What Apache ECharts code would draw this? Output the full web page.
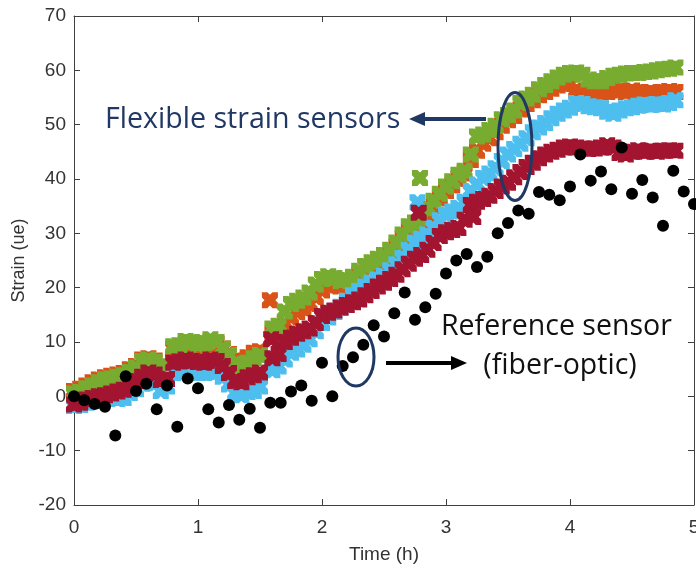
<!DOCTYPE html>
<html><head><meta charset="utf-8">
<script src="https://cdn.jsdelivr.net/npm/echarts@6/dist/echarts.min.js"></script>
<style>html,body{margin:0;padding:0;background:#fff;overflow:hidden}#c{width:696px;height:565px}</style>
</head><body><div id="c"></div>
<script>
// ---------- data ----------
const times = [0,0.05,0.1,0.15,0.2,0.25,0.3,0.35,0.4,0.45,0.5,0.55,0.6,0.65,0.7,0.75,0.8,0.85,0.9,0.95,1,1.05,1.1,1.15,1.2,1.25,1.3,1.35,1.4,1.45,1.5,1.55,1.6,1.65,1.7,1.75,1.8,1.85,1.9,1.95,2,2.05,2.1,2.15,2.2,2.25,2.3,2.35,2.4,2.45,2.5,2.55,2.6,2.65,2.7,2.75,2.8,2.85,2.9,2.95,3,3.05,3.1,3.15,3.2,3.25,3.3,3.35,3.4,3.45,3.5,3.55,3.6,3.65,3.7,3.75,3.8,3.85,3.9,3.95,4,4.05,4.1,4.15,4.2,4.25,4.3,4.35,4.4,4.45,4.5,4.55,4.6,4.65,4.7,4.75,4.8,4.85];

const greenSensor = [0.5,0.8,1.5,2.0,2.6,3.1,3.3,3.6,3.9,4.5,
 5.3,6.5,6.8,6.3,5.2,5.5,9.2,9.4,10.2,10.0,
 9.5,9.8,10.5,10.0,8.8,7.6,6.0,5.6,6.2,7.0,
 7.6,null,12.5,13.0,15.6,17.0,17.6,18.2,19.1,20.6,
 21.6,22.1,21.8,21.2,21.4,22.0,23.1,24.0,24.7,25.3,
 26.0,27.0,28.3,29.8,31.3,32.0,32.8,34.6,36.0,37.3,
 38.6,39.6,40.8,41.5,44.5,47.8,48.2,49.0,49.8,51.0,
 51.8,52.6,54.0,54.8,55.5,56.5,57.3,58.0,58.7,59.2,
 59.5,59.6,59.2,58.3,58.0,58.0,58.6,59.0,59.2,59.4,
 59.5,59.5,59.7,59.8,60.0,60.2,60.3,60.5];

const orangeSensor = [1.0,1.4,2.0,2.6,3.1,3.5,3.8,4.0,4.3,5.0,
 5.6,6.8,7.0,6.6,5.5,5.2,8.8,9.0,9.6,9.5,
 9.0,9.3,10.0,9.6,8.8,7.8,6.6,6.5,7.2,8.0,
 8.3,null,11.5,12.0,13.4,14.5,15.5,16.2,17.0,18.3,
 19.5,20.4,20.6,20.2,20.5,21.2,22.4,24.0,23.8,24.4,
 25.2,26.0,27.5,29.0,30.3,31.0,32.3,33.5,35.0,36.4,
 37.8,38.8,40.0,41.0,43.5,45.2,46.5,47.5,48.6,49.8,
 50.8,51.6,52.8,53.8,54.5,55.4,56.0,56.6,57.2,57.5,
 57.6,56.3,56.0,55.6,55.6,55.9,56.0,56.5,56.3,56.0,
 56.3,56.0,55.8,56.0,55.8,56.0,56.2,56.0];

const blueSensor = [-1.8,-1.6,-1.2,-0.8,-0.5,-0.3,-0.2,-0.5,-0.3,0.6,
 1.3,2.3,2.8,2.4,1.0,1.8,4.3,4.4,4.8,4.6,
 4.3,4.3,4.6,4.5,3.6,2.2,0.6,0.2,0.8,1.0,
 1.8,null,4.8,5.5,6.8,8.0,8.6,9.5,10.5,12.0,
 13.5,14.5,15.5,16.5,17.6,18.6,19.4,20.2,20.9,21.5,
 22.2,23.2,24.3,25.5,27.0,28.3,29.0,29.8,31.0,32.4,
 33.4,34.0,34.7,35.8,37.8,39.0,40.2,41.0,42.0,43.3,
 44.5,45.5,46.5,47.5,48.6,49.5,50.3,51.2,52.0,52.6,
 53.1,54.0,53.8,53.4,53.2,53.0,52.4,52.0,52.6,53.0,
 53.2,53.5,53.7,53.6,53.8,53.7,54.0,54.5];

const redSensor = [-1.5,-1.2,-0.6,-0.3,0.0,0.2,0.5,0.9,1.2,2.0,
 2.8,3.6,4.4,4.0,3.0,3.2,6.2,6.4,6.8,6.5,
 6.3,6.2,6.8,6.5,5.6,4.3,2.8,2.6,3.5,3.9,
 4.4,null,7.0,7.8,10.0,10.8,11.5,12.0,12.5,13.5,
 14.8,15.4,15.8,16.3,16.8,17.3,17.8,18.6,19.4,20.2,
 20.9,21.6,22.4,23.4,24.4,25.3,26.0,27.0,28.2,29.5,
 30.2,30.6,31.0,32.5,35.2,35.8,36.3,36.9,37.8,38.6,
 39.3,40.3,41.3,42.2,43.0,43.8,44.5,45.0,45.4,45.8,
 46.0,45.8,45.6,45.5,45.6,45.8,46.2,45.8,44.8,44.5,
 45.0,45.3,45.0,45.2,45.0,45.2,45.3,45.2];

// isolated readings off the main bands [time, strain]
const greenExtra  = [[2.79, 40.2]];
const orangeExtra = [[1.58, 17.7]];
const blueExtra   = [[2.77, 35.7]];
const redExtra    = [[1.59, 10.5], [2.78, 33.8], [3.22, 33.0]];

// reference (fiber-optic) sensor
const refTimes = [0,0.083,0.167,0.25,0.333,0.417,0.5,0.583,0.667,0.75,0.833,0.917,1,1.083,1.167,1.25,1.333,1.417,1.5,1.583,1.667,1.75,1.833,1.917,2,2.083,2.167,2.25,2.333,2.417,2.5,2.583,2.667,2.75,2.833,2.917,3,3.083,3.167,3.25,3.333,3.417,3.5,3.583,3.667,3.75,3.833,3.917,4,4.083,4.167,4.25,4.333,4.417,4.5,4.583,4.667,4.75,4.833,4.917,5];
const refValues = [0.0,-0.7,-1.4,-1.9,-7.2,3.7,1.0,2.3,-2.4,2.0,
 -5.6,3.3,1.5,-2.4,-4.8,-1.6,-4.3,-2.3,-5.8,-1.2,
 -1.2,0.9,2.0,-0.8,6.2,0.0,5.6,7.2,9.5,13.1,
 11.0,15.3,19.1,14.1,16.4,18.9,22.6,25.0,26.2,23.8,
 25.7,30.0,31.9,34.2,33.6,37.6,37.1,36.1,38.6,44.5,
 39.7,41.4,38.1,45.8,37.3,39.8,36.6,31.4,41.5,37.7,35.4];

const xTicks = {min: 0, max: 5, interval: 1};
const yTicks = {min: -20, max: 70, interval: 10};

// ---------- chart ----------
const chart = echarts.init(document.getElementById('c'), null, {renderer: 'canvas'});
const axisColor = '#404040';
const labelFont = 'Liberation Sans, Arial, sans-serif';
const navy = '#203864';
const crossPath = 'path://M0,0 L3.4,0 L5,1.6 L6.6,0 L10,0 L10,3.4 L8.4,5 L10,6.6 L10,10 L6.6,10 L5,8.4 L3.4,10 L0,10 L0,6.6 L1.6,5 L0,3.4 Z';

function pairs(vals, extra) {
  const out = [];
  times.forEach((t, i) => { if (vals[i] !== null) out.push([t, vals[i]]); });
  return out.concat(extra || []);
}
function sensorSeries(vals, extra, color) {
  return {type: 'scatter', data: pairs(vals, extra), symbol: crossPath, symbolSize: 16,
    itemStyle: {color: color, opacity: 1}, silent: true, clip: false, animation: false};
}

function fitFont(text, family, targetW) {
  const ctx = document.createElement('canvas').getContext('2d');
  ctx.font = '100px ' + family;
  return 100 * targetW / ctx.measureText(text).width;
}
const annFamily = '"Open Sans", sans-serif';
const fs1 = fitFont('Flexible strain sensors', annFamily, 295);
const fs2 = fitFont('Reference sensor', annFamily, 231);

const commonX = {type: 'value', min: xTicks.min, max: xTicks.max, interval: xTicks.interval,
  axisLine: {show: true, onZero: false, lineStyle: {color: axisColor, width: 1}},
  axisTick: {show: true, inside: true, length: 6, lineStyle: {color: axisColor}},
  splitLine: {show: false}};
const commonY = {type: 'value', min: yTicks.min, max: yTicks.max, interval: yTicks.interval,
  axisLine: {show: true, onZero: false, lineStyle: {color: axisColor, width: 1}},
  axisTick: {show: true, inside: true, length: 6, lineStyle: {color: axisColor}},
  splitLine: {show: false}};

chart.setOption({
  animation: false,
  grid: {left: 74, right: 2, top: 16, bottom: 60, containLabel: false, outerBoundsMode: 'none'},
  xAxis: [
    Object.assign({}, commonX, {position: 'bottom',
      axisLabel: {show: true, fontSize: 19, color: '#333', fontFamily: labelFont, margin: 13, showMaxLabel: true, hideOverlap: false},
      name: 'Time (h)', nameLocation: 'middle', nameGap: 40,
      nameTextStyle: {fontSize: 19, color: '#333', fontFamily: labelFont}}),
    Object.assign({}, commonX, {position: 'top', axisLabel: {show: false}})
  ],
  yAxis: [
    Object.assign({}, commonY, {position: 'left',
      axisLabel: {show: true, fontSize: 19, color: '#333', fontFamily: labelFont, margin: 8},
      name: 'Strain (ue)', nameLocation: 'middle', nameGap: 37, nameRotate: 90,
      nameTextStyle: {fontSize: 18, color: '#333', fontFamily: labelFont}}),
    Object.assign({}, commonY, {position: 'right', axisLabel: {show: false}})
  ],
  series: [
    sensorSeries(orangeSensor, orangeExtra, '#D95319'),
    sensorSeries(greenSensor, greenExtra, '#77AC30'),
    sensorSeries(blueSensor, blueExtra, '#4DBEEE'),
    sensorSeries(redSensor, redExtra, '#A2142F'),
    {type: 'scatter', data: refTimes.map((t, i) => [t, refValues[i]]), symbol: 'circle', symbolSize: 12,
     itemStyle: {color: '#000', opacity: 1}, silent: true, clip: false, animation: false}
  ],
  graphic: [
    {type: 'ellipse', shape: {cx: 515, cy: 146.5, rx: 17, ry: 54}, style: {fill: 'none', stroke: navy, lineWidth: 3}, z: 100},
    {type: 'ellipse', shape: {cx: 356, cy: 357, rx: 18, ry: 29}, style: {fill: 'none', stroke: navy, lineWidth: 3}, z: 100},
    {type: 'line', shape: {x1: 486, y1: 119, x2: 422, y2: 119}, style: {stroke: navy, lineWidth: 4}, z: 100},
    {type: 'polygon', shape: {points: [[409, 119], [425, 112], [425, 126]]}, style: {fill: navy}, z: 100},
    {type: 'line', shape: {x1: 386, y1: 363, x2: 453, y2: 363}, style: {stroke: '#000', lineWidth: 4}, z: 100},
    {type: 'polygon', shape: {points: [[467, 363], [451, 356], [451, 370]]}, style: {fill: '#000'}, z: 100},
    {type: 'text', x: 105, y: 120, style: {text: 'Flexible strain sensors', font: fs1.toFixed(1) + 'px ' + annFamily, fill: navy, textAlign: 'left', textVerticalAlign: 'middle'}, z: 100},
    {type: 'text', x: 441, y: 327, style: {text: 'Reference sensor', font: fs2.toFixed(1) + 'px ' + annFamily, fill: '#111', textAlign: 'left', textVerticalAlign: 'middle'}, z: 100},
    {type: 'text', x: 560, y: 366, style: {text: '(fiber-optic)', font: fs2.toFixed(1) + 'px ' + annFamily, fill: '#111', textAlign: 'center', textVerticalAlign: 'middle'}, z: 100}
  ]
});
</script></body></html>
